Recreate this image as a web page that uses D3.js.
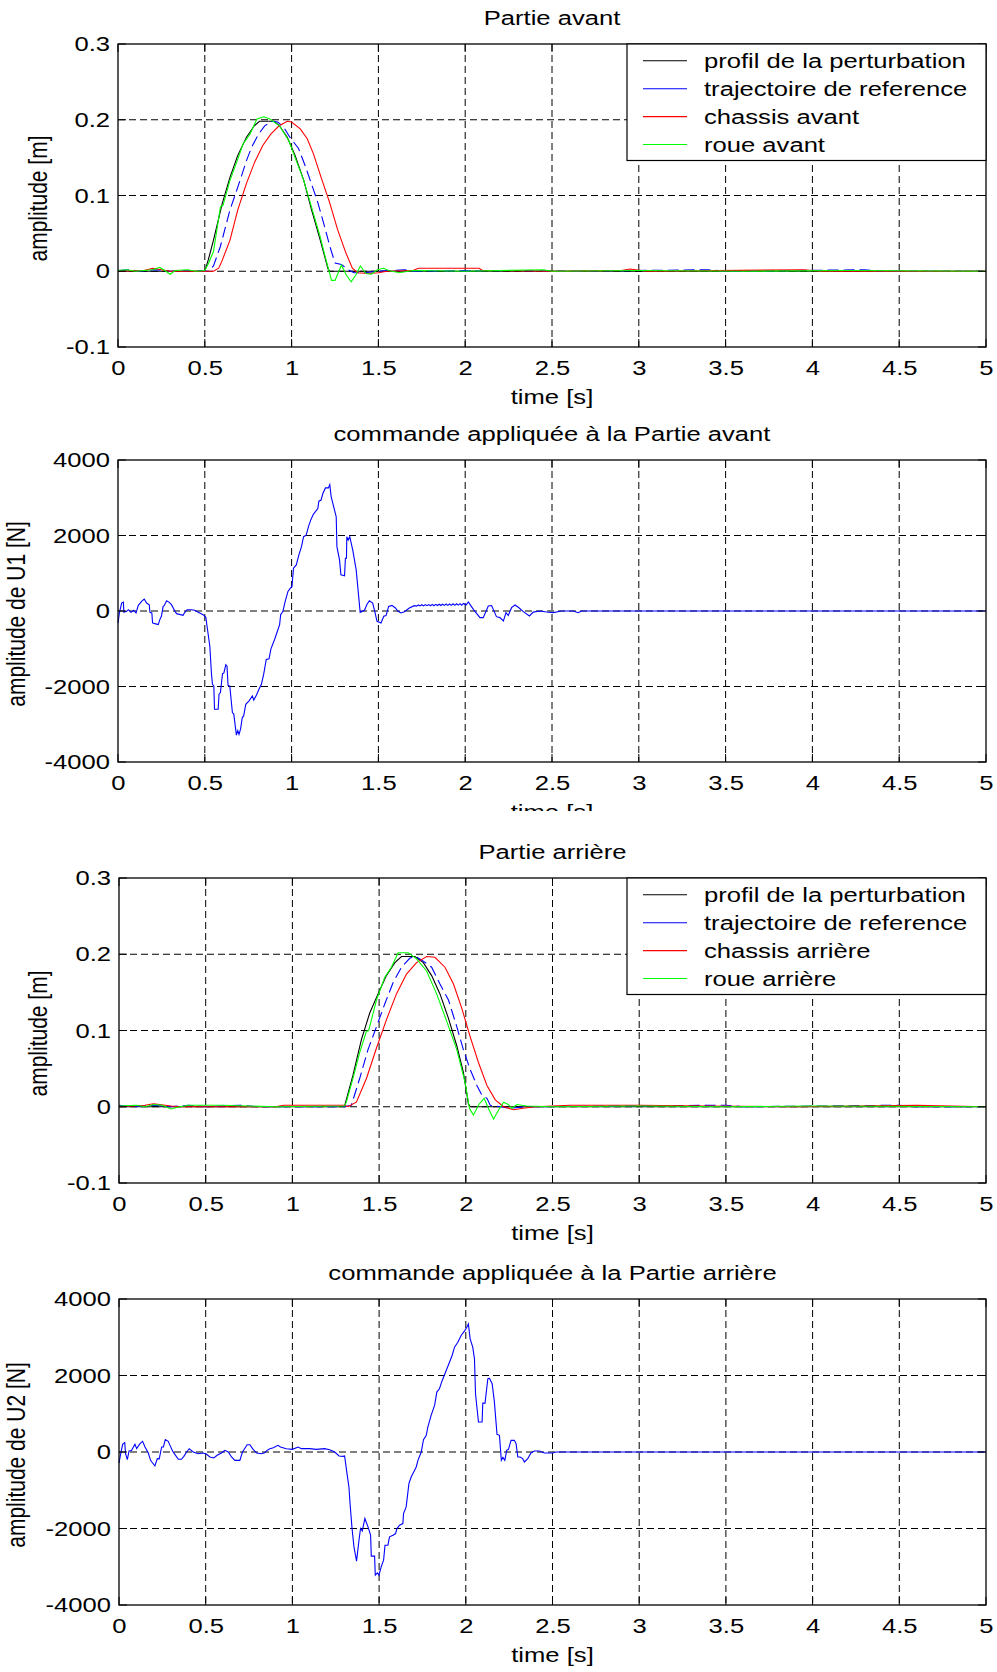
<!DOCTYPE html>
<html>
<head>
<meta charset="utf-8">
<script src="https://cdn.jsdelivr.net/npm/d3@7"></script>
<style>
  body { margin: 0; background: #fff; }
  text { font-family: "Liberation Sans", Arial, sans-serif; font-size: 21px; fill: #000; }
</style>
</head>
<body>
<div id="chart"></div>
<script>
// ---- data ----
const xTicks = [0, 0.5, 1, 1.5, 2, 2.5, 3, 3.5, 4, 4.5, 5];
const ampTicks = [-0.1, 0, 0.1, 0.2, 0.3];
const forceTicks = [-4000, -2000, 0, 2000, 4000];

const titles = ['Partie avant', 'commande appliquée à la Partie avant', 'Partie arrière', 'commande appliquée à la Partie arrière'];
const yLabels = ['amplitude [m]', 'amplitude de U1 [N]', 'amplitude [m]', 'amplitude de U2 [N]'];
const xLabel = 'time [s]';
const legendAvant = ['profil de la perturbation', 'trajectoire de reference', 'chassis avant', 'roue avant'];
const legendArriere = ['profil de la perturbation', 'trajectoire de reference', 'chassis arrière', 'roue arrière'];

// Partie avant [t, amplitude]
const perturbAvant = [[0,0],[0.5,0],[0.52,0.015],[0.55,0.041],[0.6,0.089],[0.645,0.124],[0.69,0.153],[0.74,0.177],[0.785,0.192],[0.815,0.198],[0.9,0.198],[0.93,0.192],[0.975,0.177],[1.02,0.153],[1.07,0.12],[1.115,0.081],[1.165,0.041],[1.21,0.003],[1.22,0],[5,0]];
const refAvant = [[0,0.001],[0.08,0.002],[0.12,0],[0.22,0.002],[0.3,0],[0.45,0.001],[0.52,0],[0.55,0.007],[0.59,0.033],[0.645,0.081],[0.69,0.111],[0.74,0.146],[0.77,0.164],[0.81,0.181],[0.845,0.192],[0.89,0.198],[0.92,0.197],[0.955,0.19],[0.99,0.177],[1.04,0.162],[1.077,0.14],[1.124,0.109],[1.152,0.09],[1.19,0.059],[1.22,0.033],[1.25,0.011],[1.287,0.009],[1.325,0.002],[1.36,-0.002],[1.42,-0.002],[1.5,0],[1.65,0.002],[1.7,0],[2.3,0.001],[2.6,0],[3.4,0.002],[3.5,0],[4.3,0.002],[4.4,0],[5,0]];
const chassisAvant = [[0,0],[0.15,0.001],[0.2,0.004],[0.25,0.002],[0.3,0],[0.55,0],[0.58,0.004],[0.598,0.013],[0.645,0.041],[0.69,0.081],[0.74,0.116],[0.787,0.144],[0.834,0.166],[0.88,0.181],[0.928,0.192],[0.975,0.198],[1.0,0.197],[1.05,0.188],[1.09,0.175],[1.126,0.155],[1.17,0.124],[1.22,0.09],[1.265,0.055],[1.313,0.024],[1.35,0.004],[1.38,-0.002],[1.44,-0.003],[1.5,-0.002],[1.55,0],[1.7,0.001],[1.73,0.004],[2.08,0.004],[2.1,0.001],[2.5,0],[2.9,0.001],[2.95,0.003],[3.05,0],[3.95,0.002],[4.05,0],[5,0]];
const roueAvant = [[0,0.001],[0.05,0.002],[0.1,0],[0.15,0.001],[0.2,0.002],[0.24,0.005],[0.27,0.001],[0.3,-0.004],[0.33,0.001],[0.4,0.002],[0.45,0],[0.5,0.001],[0.52,0.01],[0.55,0.026],[0.58,0.07],[0.59,0.085],[0.605,0.087],[0.645,0.12],[0.69,0.148],[0.72,0.168],[0.76,0.181],[0.8,0.201],[0.84,0.204],[0.875,0.201],[0.93,0.192],[0.985,0.172],[1.02,0.15],[1.07,0.12],[1.117,0.083],[1.164,0.046],[1.195,0.018],[1.23,-0.012],[1.25,-0.012],[1.287,0.008],[1.315,-0.005],[1.343,-0.014],[1.37,-0.005],[1.396,0.007],[1.428,-0.003],[1.46,-0.004],[1.494,0.002],[1.53,0.004],[1.56,0.001],[1.62,-0.002],[1.7,0.001],[2.0,0],[2.45,0.002],[2.5,0],[3.0,0.001],[3.6,0],[4.2,0.001],[5,0]];

// Partie arrière [t, amplitude]
const perturbArriere = [[0,0],[1.3,0],[1.349,0.041],[1.398,0.088],[1.446,0.123],[1.494,0.148],[1.542,0.172],[1.591,0.189],[1.629,0.197],[1.707,0.197],[1.755,0.189],[1.803,0.172],[1.851,0.148],[1.9,0.116],[1.948,0.08],[1.986,0.045],[2.015,0.004],[2.025,0],[5,0]];
const refArriere = [[0,0.002],[0.08,0],[0.2,0.002],[0.3,0],[0.4,0.002],[0.5,0],[0.7,0.002],[0.8,0],[1.3,0],[1.34,0.002],[1.388,0.037],[1.436,0.075],[1.485,0.105],[1.533,0.135],[1.581,0.163],[1.629,0.183],[1.678,0.195],[1.712,0.197],[1.755,0.191],[1.803,0.183],[1.851,0.161],[1.9,0.14],[1.948,0.105],[1.986,0.075],[2.025,0.049],[2.064,0.028],[2.093,0.015],[2.122,0.011],[2.141,0.002],[2.2,0],[2.25,-0.002],[2.35,0],[2.9,0.001],[3.5,0.002],[3.6,0],[4.5,0.002],[4.6,0],[5,0]];
const chassisArriere = [[0,0],[0.15,0.002],[0.2,0.004],[0.3,0.001],[0.35,0],[0.9,0],[0.95,0.002],[1.3,0.002],[1.32,0],[1.369,0.006],[1.427,0.037],[1.485,0.077],[1.542,0.114],[1.6,0.148],[1.658,0.174],[1.716,0.189],[1.774,0.197],[1.822,0.196],[1.88,0.183],[1.929,0.161],[1.977,0.129],[2.025,0.092],[2.073,0.058],[2.122,0.028],[2.17,0.009],[2.218,0],[2.276,-0.004],[2.33,-0.002],[2.4,0],[2.6,0.002],[3.0,0.002],[3.4,0.001],[3.9,0],[4.6,0.002],[5,0]];
const roueArriere = [[0,0.001],[0.1,0.002],[0.15,0],[0.2,0.003],[0.25,0.002],[0.3,-0.003],[0.35,0],[0.4,0.002],[0.6,0.002],[0.9,0],[1.3,0.001],[1.311,0.006],[1.349,0.037],[1.388,0.071],[1.427,0.099],[1.44,0.1],[1.485,0.14],[1.533,0.17],[1.571,0.183],[1.61,0.202],[1.668,0.202],[1.716,0.194],[1.774,0.178],[1.832,0.148],[1.89,0.112],[1.948,0.075],[1.996,0.032],[2.021,-0.002],[2.044,-0.011],[2.075,0.003],[2.106,0.011],[2.13,-0.002],[2.16,-0.016],[2.19,-0.004],[2.218,0.006],[2.245,0.003],[2.266,-0.002],[2.295,0.003],[2.35,0.001],[2.5,0],[3.0,0.001],[3.5,0],[4.0,0.001],[5,0]];

// commandes [t, N]
const commandeAvant = [[0,-316],[0.008,-53],[0.021,211],[0.031,237],[0.034,-35],[0.05,-9],[0.06,35],[0.075,-35],[0.09,18],[0.104,-53],[0.117,149],[0.136,255],[0.151,316],[0.165,211],[0.18,167],[0.184,-35],[0.195,-53],[0.199,-316],[0.212,-334],[0.232,-360],[0.241,-228],[0.25,-140],[0.26,123],[0.266,141],[0.28,272],[0.295,228],[0.308,167],[0.328,-9],[0.337,-70],[0.375,-114],[0.385,-35],[0.398,35],[0.423,35],[0.442,18],[0.462,-35],[0.49,-97],[0.506,-167],[0.513,-404],[0.529,-932],[0.538,-1635],[0.544,-1943],[0.552,-1987],[0.556,-2602],[0.577,-2602],[0.582,-2206],[0.59,-2160],[0.602,-1661],[0.61,-1640],[0.621,-1424],[0.628,-1460],[0.634,-1969],[0.644,-1990],[0.659,-2690],[0.667,-2730],[0.682,-3287],[0.69,-3170],[0.697,-3270],[0.706,-3130],[0.716,-2822],[0.724,-2780],[0.736,-2470],[0.755,-2380],[0.774,-2250],[0.782,-2360],[0.797,-2233],[0.812,-2074],[0.826,-1943],[0.839,-1679],[0.854,-1283],[0.87,-1265],[0.881,-1002],[0.902,-756],[0.931,-360],[0.937,-97],[0.95,-9],[0.962,237],[0.979,519],[0.992,598],[1.002,650],[1.011,1134],[1.027,1222],[1.042,1486],[1.057,1705],[1.069,1969],[1.084,2010],[1.098,2250],[1.111,2420],[1.126,2567],[1.151,2716],[1.157,2910],[1.17,2940],[1.18,3112],[1.195,3261],[1.212,3261],[1.22,3349],[1.228,3024],[1.257,2496],[1.261,1705],[1.276,1354],[1.284,958],[1.305,932],[1.31,1398],[1.316,1398],[1.318,1969],[1.326,1880],[1.335,1969],[1.352,1617],[1.372,1090],[1.395,-35],[1.42,18],[1.433,167],[1.448,272],[1.467,211],[1.479,-9],[1.492,-272],[1.515,-316],[1.531,-141],[1.544,-123],[1.559,123],[1.578,149],[1.598,79],[1.613,-9],[1.63,-53],[1.65,-20],[1.678,79],[1.707,141],[1.72,130],[1.73,160],[1.74,135],[1.75,165],[1.76,135],[1.77,170],[1.78,140],[1.79,170],[1.8,140],[1.81,175],[1.82,140],[1.83,175],[1.84,145],[1.85,180],[1.86,145],[1.87,180],[1.88,150],[1.89,185],[1.9,150],[1.91,185],[1.92,150],[1.93,190],[1.94,150],[1.95,190],[1.96,155],[1.97,195],[1.98,155],[1.99,200],[2.005,160],[2.018,238],[2.047,45],[2.085,-175],[2.104,-175],[2.133,132],[2.152,145],[2.18,-150],[2.2,-175],[2.22,-264],[2.235,-44],[2.248,-120],[2.267,88],[2.287,158],[2.306,100],[2.335,-17],[2.37,-132],[2.392,-30],[2.43,0],[2.469,-26],[2.507,-44],[2.555,0],[2.622,0],[2.651,-44],[2.67,0],[5,0]];
const commandeArriere = [[0,-287],[0.01,-44],[0.021,200],[0.033,244],[0.038,-44],[0.048,-200],[0.058,26],[0.072,40],[0.083,131],[0.092,200],[0.102,87],[0.121,218],[0.136,278],[0.15,131],[0.169,-26],[0.182,-218],[0.207,-365],[0.221,-174],[0.232,-180],[0.246,131],[0.256,131],[0.267,322],[0.284,278],[0.294,174],[0.309,26],[0.322,-61],[0.342,-191],[0.36,-191],[0.374,-113],[0.39,0],[0.405,87],[0.428,0],[0.457,-44],[0.486,-26],[0.505,-61],[0.524,-131],[0.547,-157],[0.566,-87],[0.591,-26],[0.61,44],[0.63,0],[0.649,-131],[0.668,-218],[0.697,-218],[0.712,0],[0.739,191],[0.755,191],[0.77,87],[0.793,-26],[0.822,-44],[0.84,-20],[0.854,44],[0.87,87],[0.89,110],[0.917,174],[0.931,131],[0.965,87],[1.0,70],[1.033,131],[1.052,87],[1.1,87],[1.138,70],[1.186,87],[1.215,61],[1.244,0],[1.269,-104],[1.292,-113],[1.301,-104],[1.315,-566],[1.326,-914],[1.334,-1436],[1.344,-2001],[1.355,-2480],[1.37,-2854],[1.384,-2306],[1.393,-2001],[1.403,-2062],[1.418,-1740],[1.436,-1958],[1.451,-2175],[1.455,-2723],[1.474,-2723],[1.478,-3219],[1.49,-3158],[1.499,-3219],[1.512,-3002],[1.526,-2828],[1.534,-2436],[1.551,-2436],[1.56,-2219],[1.58,-2175],[1.595,-2132],[1.603,-2001],[1.618,-1914],[1.637,-1871],[1.641,-1610],[1.656,-1436],[1.672,-827],[1.685,-653],[1.714,-392],[1.724,-218],[1.743,0],[1.756,322],[1.772,435],[1.781,653],[1.8,957],[1.82,1218],[1.833,1566],[1.848,1653],[1.864,1871],[1.887,2132],[1.91,2393],[1.921,2523],[1.935,2741],[1.954,2871],[1.973,3045],[1.992,3158],[2.006,3263],[2.015,3350],[2.025,2958],[2.04,2741],[2.05,2436],[2.056,1523],[2.073,783],[2.094,783],[2.098,1279],[2.111,1279],[2.127,1914],[2.136,1931],[2.152,1784],[2.165,1305],[2.18,461],[2.194,435],[2.205,-218],[2.214,-140],[2.225,-218],[2.236,44],[2.246,70],[2.261,305],[2.28,305],[2.29,218],[2.3,-131],[2.313,-131],[2.328,-174],[2.338,-261],[2.357,-174],[2.376,-26],[2.395,26],[2.424,26],[2.453,-26],[2.501,-26],[2.52,0],[5,0]];

// ---- layout ----
const width = 997, height = 1672;
const SX = 1.22; // the source figure is stretched horizontally
const seriesColors = ['#000000', '#0000ff', '#ff0000', '#00ff00'];

const panels = [
  {top: 44, bottom: 347, left: 118, right: 986, yDomain: [-0.1, 0.3], yTicks: ampTicks, ylabX: 47,
   series: [perturbAvant, refAvant, chassisAvant, roueAvant], legend: legendAvant},
  {top: 460, bottom: 762, left: 118, right: 986, yDomain: [-4000, 4000], yTicks: forceTicks, ylabX: 25,
   series: [null, commandeAvant], clipY: 811},
  {top: 878, bottom: 1183, left: 119, right: 986, yDomain: [-0.1, 0.3], yTicks: ampTicks, ylabX: 47,
   series: [perturbArriere, refArriere, chassisArriere, roueArriere], legend: legendArriere},
  {top: 1299, bottom: 1605, left: 119, right: 986, yDomain: [-4000, 4000], yTicks: forceTicks, ylabX: 25,
   series: [null, commandeArriere]}
];

const svg = d3.select('#chart').append('svg')
  .attr('width', width)
  .attr('height', height)
  .style('background', '#fff');

const stretchText = (g, x, y, str, anchor = 'middle', rotate = false) => g.append('text')
  .attr('transform', `translate(${x},${y}) scale(${SX},1)` + (rotate ? ' rotate(-90)' : ''))
  .attr('text-anchor', anchor)
  .text(str);

svg.append('defs').append('clipPath').attr('id', 'cut2')
  .append('rect').attr('x', 0).attr('y', 0).attr('width', width).attr('height', panels[1].clipY);

panels.forEach((p, i) => {
  const g = svg.append('g').attr('class', 'panel');
  if (p.clipY) g.attr('clip-path', 'url(#cut2)');

  const x = d3.scaleLinear().domain([0, 5]).range([p.left, p.right]);
  const y = d3.scaleLinear().domain(p.yDomain).range([p.bottom, p.top]);

  // grid
  g.append('g').selectAll('line').data(xTicks.slice(1, -1)).join('line')
    .attr('x1', d => x(d)).attr('x2', d => x(d))
    .attr('y1', p.top).attr('y2', p.bottom)
    .attr('stroke', '#000').attr('stroke-width', 1).attr('stroke-dasharray', '7,4');
  g.append('g').selectAll('line').data(p.yTicks.slice(1, -1)).join('line')
    .attr('y1', d => y(d)).attr('y2', d => y(d))
    .attr('x1', p.left).attr('x2', p.right)
    .attr('stroke', '#000').attr('stroke-width', 1).attr('stroke-dasharray', '7,4');

  // data lines
  const line = d3.line().x(d => x(d[0])).y(d => y(d[1]));
  p.series.forEach((s, k) => {
    if (!s) return;
    g.append('path')
      .datum(s)
      .attr('d', line)
      .attr('fill', 'none')
      .attr('stroke', seriesColors[k])
      .attr('stroke-width', 1.1)
      .attr('stroke-dasharray', (k === 1 && p.legend) ? '11,5' : null);
  });

  // inward ticks
  const tl = 8;
  g.append('g').selectAll('path').data(xTicks).join('path')
    .attr('d', d => `M${x(d)},${p.bottom}v${-tl}M${x(d)},${p.top}v${tl}`)
    .attr('stroke', '#000');
  g.append('g').selectAll('path').data(p.yTicks).join('path')
    .attr('d', d => `M${p.left},${y(d)}h${tl}M${p.right},${y(d)}h${-tl}`)
    .attr('stroke', '#000');

  // box
  g.append('rect')
    .attr('x', p.left).attr('y', p.top)
    .attr('width', p.right - p.left).attr('height', p.bottom - p.top)
    .attr('fill', 'none').attr('stroke', '#000').attr('stroke-width', 1.3);

  // tick labels
  const xAxis = g.append('g')
    .attr('transform', `translate(0,${p.bottom})`)
    .call(d3.axisBottom(x).tickValues(xTicks).tickSize(0).tickPadding(13).tickFormat(d => String(d)));
  const yAxis = g.append('g')
    .attr('transform', `translate(${p.left},0)`)
    .call(d3.axisLeft(y).tickValues(p.yTicks).tickSize(0).tickPadding(6.5).tickFormat(d => String(d)));
  [xAxis, yAxis].forEach(a => {
    a.attr('font-size', null).attr('font-family', null);
    a.select('.domain').remove();
    a.selectAll('text').attr('fill', '#000').attr('transform', `scale(${SX},1)`);
  });

  // titles and labels
  const cx = (p.left + p.right) / 2;
  stretchText(g, cx, p.top - 19.5, titles[i]);
  stretchText(g, cx, p.bottom + 57, xLabel);
  stretchText(g, p.ylabX, (p.top + p.bottom) / 2 + 3, yLabels[i], 'middle', true);

  // legend
  if (p.legend) {
    const lg = g.append('g');
    const lx = 627, lw = p.right - lx, rowH = 27.9, first = 16.8;
    lg.append('rect')
      .attr('x', lx).attr('y', p.top)
      .attr('width', lw).attr('height', first + rowH * 3 + 16)
      .attr('fill', '#fff').attr('stroke', '#000').attr('stroke-width', 1.2);
    p.legend.forEach((name, k) => {
      const ry = p.top + first + k * rowH;
      lg.append('line')
        .attr('x1', 643).attr('x2', 687).attr('y1', ry).attr('y2', ry)
        .attr('stroke', seriesColors[k]).attr('stroke-width', 1.1);
      stretchText(lg, 704, ry + 7.5, name, 'start');
    });
  }
});
</script>
</body>
</html>
